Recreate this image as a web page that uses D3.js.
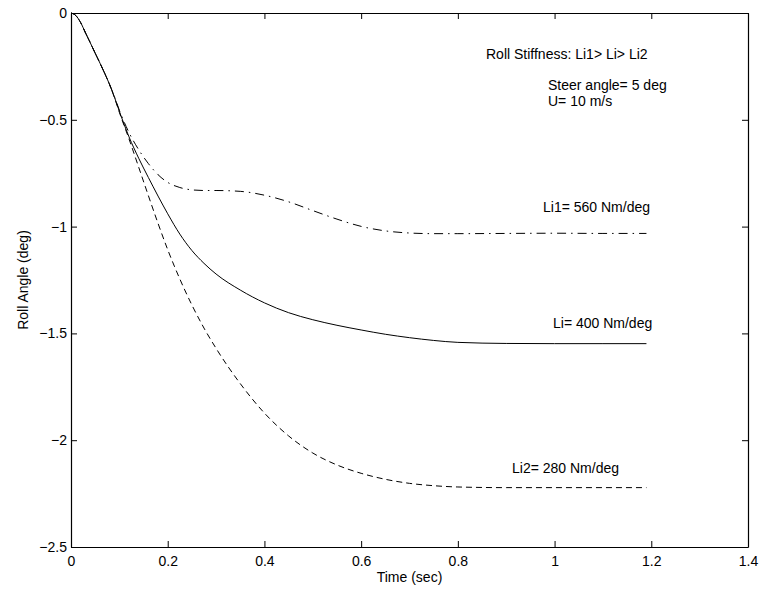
<!DOCTYPE html>
<html>
<head>
<meta charset="utf-8">
<script src="https://cdn.jsdelivr.net/npm/d3@7"></script>
<style>
  html, body { margin: 0; padding: 0; background: #fff; }
  svg { display: block; }
  text { font-family: "Liberation Sans", Arial, Helvetica, sans-serif; fill: #000; }
</style>
</head>
<body>
<svg id="chart" width="762" height="592"></svg>
<script>
// Simulation time samples (sec)
const time = [0, 0.01, 0.02, 0.03, 0.04, 0.05, 0.06, 0.07, 0.08, 0.09, 0.1, 0.12, 0.14, 0.16,
  0.18, 0.2, 0.225, 0.25, 0.275, 0.3, 0.35, 0.4, 0.45, 0.5, 0.55, 0.6, 0.65, 0.7, 0.75, 0.8,
  0.9, 1.0, 1.1, 1.19];

// Roll angle response (deg) for each roll stiffness
const rollLi1 = [0, -0.012, -0.045, -0.093, -0.14, -0.188, -0.235, -0.284, -0.336, -0.393,
  -0.455, -0.56, -0.64, -0.705, -0.757, -0.793, -0.817, -0.828, -0.831, -0.831, -0.835,
  -0.853, -0.884, -0.925, -0.965, -0.999, -1.02, -1.03, -1.033, -1.033, -1.032, -1.031,
  -1.032, -1.032];
const rollLi = [0, -0.012, -0.045, -0.093, -0.14, -0.188, -0.235, -0.284, -0.336, -0.395,
  -0.46, -0.58, -0.68, -0.77, -0.857, -0.94, -1.035, -1.112, -1.172, -1.222, -1.297, -1.357,
  -1.403, -1.436, -1.462, -1.484, -1.504, -1.52, -1.533, -1.542, -1.547, -1.548, -1.548,
  -1.548];
const rollLi2 = [0, -0.012, -0.045, -0.093, -0.14, -0.188, -0.235, -0.284, -0.336, -0.397,
  -0.465, -0.59, -0.722, -0.855, -0.985, -1.108, -1.245, -1.367, -1.475, -1.57, -1.735,
  -1.873, -1.98, -2.06, -2.116, -2.155, -2.183, -2.202, -2.213, -2.219, -2.222, -2.222,
  -2.222, -2.222];

const xTicks = [0, 0.2, 0.4, 0.6, 0.8, 1, 1.2, 1.4];
const yTicks = [0, -0.5, -1, -1.5, -2, -2.5];

const seriesValues = [rollLi1, rollLi, rollLi2];
const seriesDash = ["9,5,1.5,5", null, "6,4"];

const svg = d3.select("#chart");
const fontSize = 14;

const x = d3.scaleLinear().domain([0, 1.4]).range([71, 748]);
const y = d3.scaleLinear().domain([-2.5, 0]).range([547, 13]);

// Response curves
const line = d3.line()
  .x(d => x(d[0]))
  .y(d => y(d[1]))
  .curve(d3.curveMonotoneX);

seriesValues.forEach((vals, i) => {
  svg.append("path")
    .datum(time.map((t, k) => [t, vals[k]]))
    .attr("fill", "none")
    .attr("stroke", "#000")
    .attr("stroke-width", 1)
    .attr("stroke-dasharray", seriesDash[i])
    .attr("d", line);
});

// Axes box with inward ticks; negative labels use a true minus sign
const fmt = v => (v < 0 ? "\u2212" : "") + String(Math.abs(v));
const axisBottomG = svg.append("g").attr("transform", "translate(0,547)")
  .call(d3.axisBottom(x).tickValues(xTicks).tickSizeInner(-6).tickSizeOuter(0).tickPadding(9).tickFormat(fmt));
const axisTopG = svg.append("g").attr("transform", "translate(0,13)")
  .call(d3.axisTop(x).tickValues(xTicks).tickSizeInner(-6).tickSizeOuter(0).tickFormat(""));
const axisLeftG = svg.append("g").attr("transform", "translate(71,0)")
  .call(d3.axisLeft(y).tickValues(yTicks).tickSizeInner(-6).tickSizeOuter(0).tickPadding(4).tickFormat(fmt));
const axisRightG = svg.append("g").attr("transform", "translate(748,0)")
  .call(d3.axisRight(y).tickValues(yTicks).tickSizeInner(-6).tickSizeOuter(0).tickFormat(""));

[axisBottomG, axisTopG, axisLeftG, axisRightG].forEach(g => {
  g.attr("font-family", null).attr("font-size", null);
  g.selectAll("path.domain").attr("stroke", "#000").attr("stroke-width", 1.2);
  g.selectAll(".tick line").attr("stroke", "#000");
  g.selectAll(".tick text").attr("font-size", fontSize).attr("fill", "#000");
});

// Axis titles
svg.append("text")
  .attr("x", 409.5).attr("y", 582)
  .attr("text-anchor", "middle")
  .attr("font-size", fontSize)
  .text("Time (sec)");

svg.append("text")
  .attr("transform", "translate(28,280) rotate(-90)")
  .attr("text-anchor", "middle")
  .attr("font-size", fontSize)
  .text("Roll Angle (deg)");

// Annotations
const notes = [
  { text: "Roll Stiffness: Li1> Li> Li2", x: 486, y: 59 },
  { text: "Steer angle= 5 deg", x: 548, y: 90 },
  { text: "U= 10 m/s", x: 548, y: 105.5 },
  { text: "Li1= 560 Nm/deg", x: 543, y: 212 },
  { text: "Li= 400 Nm/deg", x: 553, y: 328 },
  { text: "Li2= 280 Nm/deg", x: 512, y: 472.5 }
];
svg.selectAll("text.note")
  .data(notes)
  .join("text")
  .attr("class", "note")
  .attr("x", d => d.x)
  .attr("y", d => d.y)
  .attr("font-size", fontSize)
  .text(d => d.text);
</script>
</body>
</html>
